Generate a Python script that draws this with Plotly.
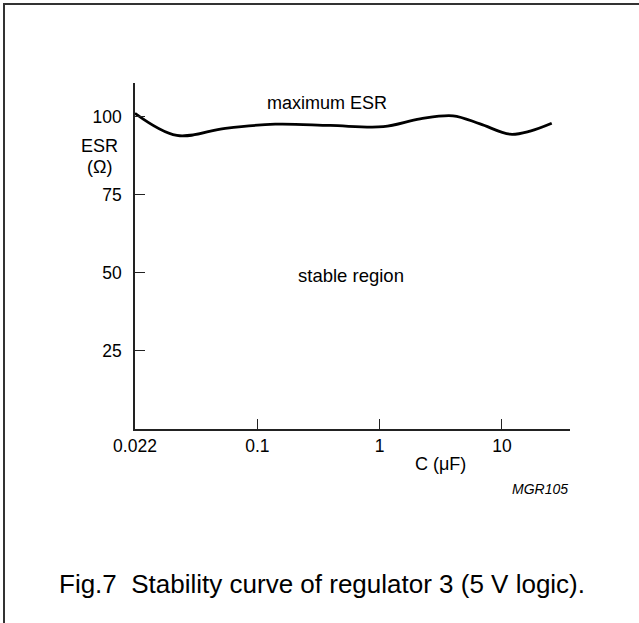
import plotly.graph_objects as go

# Data (x is position on the log-decade axis)
cap_uF = [0.0100, 0.0220, 0.0547, 0.140, 0.394, 1.07, 2.14, 3.98, 6.62, 11.6, 17.0, 25.5]
esr_ohm = [101.1, 94.0, 96.3, 97.6, 97.2, 96.8, 99.3, 100.3, 97.7, 94.4, 95.4, 97.9]

x_tickvals = [0.01, 0.1, 1, 10]
x_ticktext = ["0.022", "0.1", "1", "10"]
y_tickvals = [25, 50, 75, 100]
y_ticktext = ["25", "50", "75", "100"]

FONT = "Liberation Sans, Arial, sans-serif"

W, H = 639, 623
ML, MR, MT, MB = 135, 69, 83, 194
PW, PH = W - ML - MR, H - MT - MB


def px(x):
    return (x - ML) / PW


def py(y):
    return (H - MB - y) / PH


fig = go.Figure()
fig.add_trace(go.Scatter(
    x=cap_uF, y=esr_ohm, mode="lines",
    line=dict(color="black", width=2.8, shape="spline", smoothing=1.0),
    hoverinfo="skip", showlegend=False,
))

fig.update_layout(
    width=W, height=H,
    margin=dict(l=ML, r=MR, t=MT, b=MB, pad=0),
    paper_bgcolor="white", plot_bgcolor="white",
    font=dict(family=FONT, size=17, color="black"),
    showlegend=False,
    xaxis=dict(
        type="log", range=[-2, 1.556],
        tickvals=x_tickvals, ticktext=x_ticktext,
        ticks="inside", ticklen=10, tickwidth=1, tickcolor="#222",
        showline=True, linecolor="#222", linewidth=1.5,
        showgrid=False, zeroline=False,
        tickfont=dict(family=FONT, size=17.5, color="black"),
    ),
    yaxis=dict(
        range=[0, 110.8],
        tickvals=y_tickvals, ticktext=y_ticktext,
        ticks="inside", ticklen=10, tickwidth=1, tickcolor="#222",
        showline=True, linecolor="#222", linewidth=1.5,
        showgrid=False, zeroline=False,
        tickfont=dict(family=FONT, size=17.5, color="black"),
        ticklabelstandoff=8,
    ),
)


def note(text, x, y, size=18, xanchor="center"):
    return dict(text=text, x=px(x), y=py(y), xref="paper", yref="paper",
                xanchor=xanchor, yanchor="middle", showarrow=False,
                font=dict(size=size))


annotations = [
    note("maximum ESR", 327, 103),
    note("stable region", 351, 275, 18.5),
    note("ESR", 99.5, 146),
    note("(Ω)", 99.5, 167),
    note("C (μF)", 440, 464),
    note("<i>MGR105</i>", 570, 489, 14, "right"),
    note("Fig.7  Stability curve of regulator 3 (5 V logic).", 321.5, 584, 26),
]
fig.update_layout(annotations=annotations)

# outer frame (only left and top edges visible in the reference)
fig.add_shape(type="line", xref="paper", yref="paper", layer="above",
              x0=px(3), x1=px(639), y0=py(4), y1=py(4),
              line=dict(color="#333", width=2))
fig.add_shape(type="line", xref="paper", yref="paper", layer="above",
              x0=px(4), x1=px(4), y0=py(3), y1=py(623),
              line=dict(color="#333", width=2))

fig.write_html(
    "out.html",
    config={"displayModeBar": False},
    post_script="document.body.style.margin='0px';document.body.style.overflow='hidden';",
)
